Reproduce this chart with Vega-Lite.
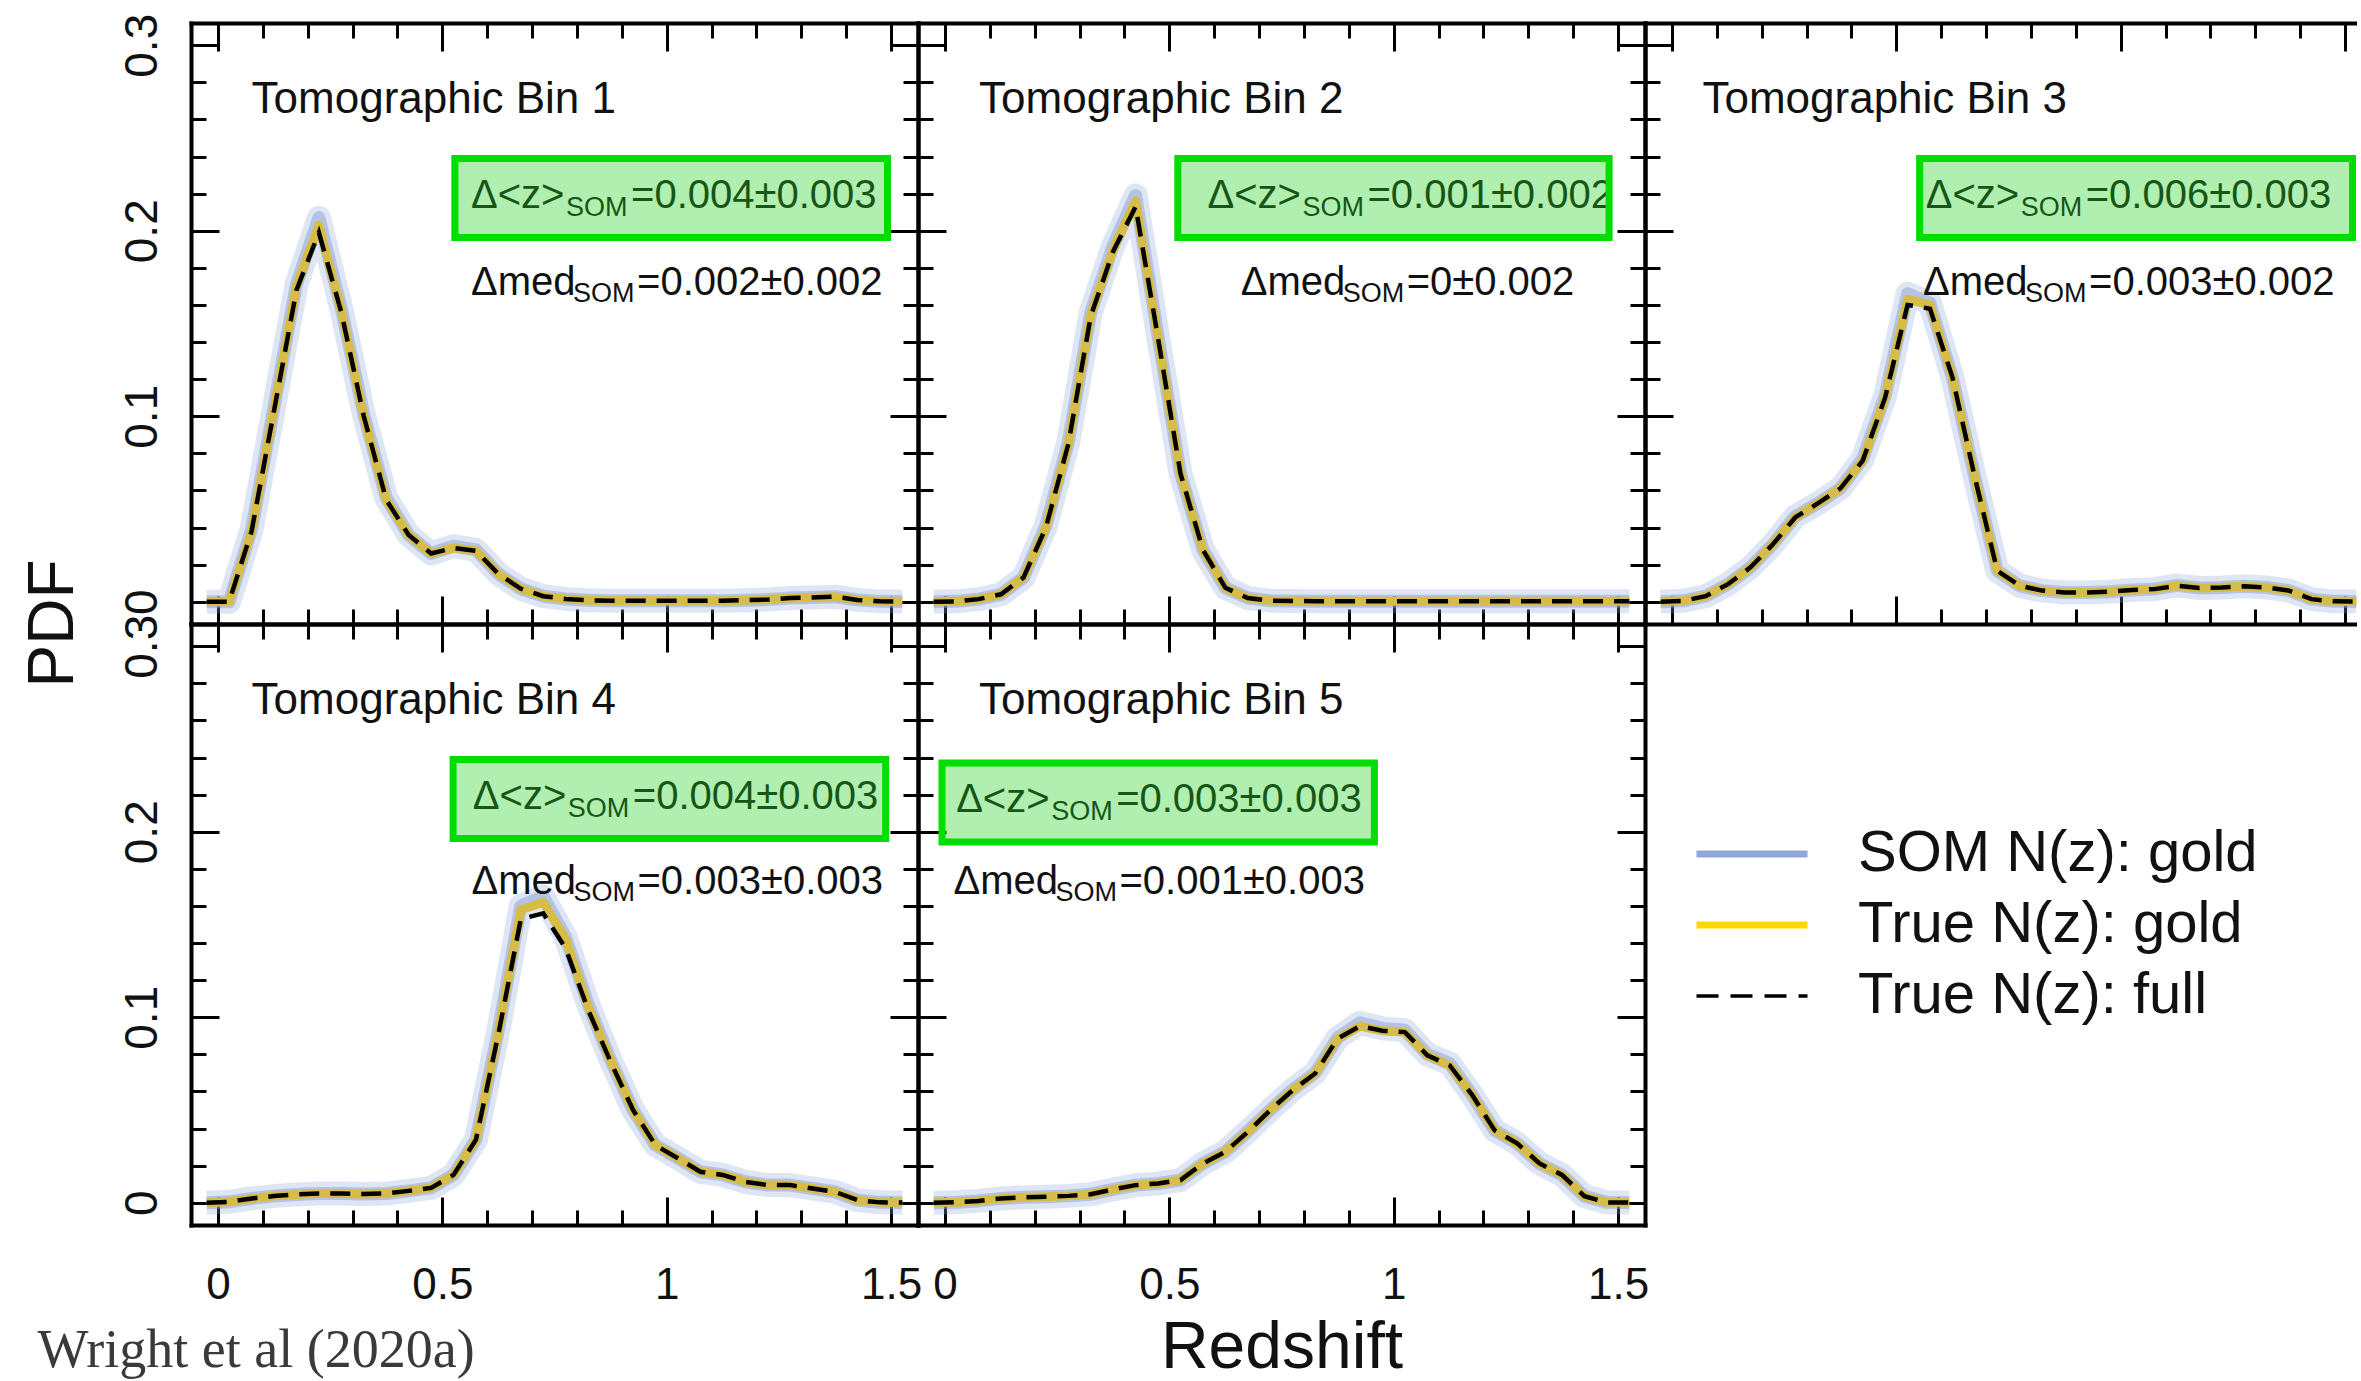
{
"$schema":"https://vega.github.io/schema/vega-lite/v6.json",
"autosize":{"type":"pad"},
"padding":{"left":21,"top":13,"right":0,"bottom":0},
"background":"white",
"config":{
 "view":{"stroke":null},
 "font":"Liberation Sans",
 "axis":{"tickColor":"black","tickWidth":3,"domainColor":"black","domainWidth":4,"domainCap":"square","grid":false,"labelFont":"Liberation Sans","labelFontSize":44,"labelColor":"#111","labelOverlap":false,"labelFlush":false,"labelBound":false,"titleFontWeight":"normal","titleColor":"#111","titleFont":"Liberation Sans"}
},
"datasets":{
"nz":[
{"bin":1,"z":-0.025,"som":0,"gold":0,"full":0},
{"bin":1,"z":0.025,"som":0,"gold":0,"full":0},
{"bin":1,"z":0.075,"som":0.039,"gold":0.038,"full":0.038},
{"bin":1,"z":0.125,"som":0.105,"gold":0.104,"full":0.103},
{"bin":1,"z":0.175,"som":0.171,"gold":0.170,"full":0.168},
{"bin":1,"z":0.225,"som":0.207,"gold":0.203,"full":0.199},
{"bin":1,"z":0.275,"som":0.158,"gold":0.157,"full":0.156},
{"bin":1,"z":0.325,"som":0.101,"gold":0.100,"full":0.100},
{"bin":1,"z":0.375,"som":0.056,"gold":0.055,"full":0.055},
{"bin":1,"z":0.425,"som":0.036,"gold":0.036,"full":0.036},
{"bin":1,"z":0.475,"som":0.026,"gold":0.026,"full":0.026},
{"bin":1,"z":0.525,"som":0.030,"gold":0.029,"full":0.029},
{"bin":1,"z":0.575,"som":0.028,"gold":0.0275,"full":0.0275},
{"bin":1,"z":0.625,"som":0.015,"gold":0.015,"full":0.015},
{"bin":1,"z":0.675,"som":0.007,"gold":0.007,"full":0.007},
{"bin":1,"z":0.725,"som":0.003,"gold":0.003,"full":0.003},
{"bin":1,"z":0.775,"som":0.0015,"gold":0.0015,"full":0.0015},
{"bin":1,"z":0.825,"som":0.0008,"gold":0.0008,"full":0.0008},
{"bin":1,"z":0.875,"som":0.0005,"gold":0.0005,"full":0.0005},
{"bin":1,"z":0.925,"som":0.0005,"gold":0.0005,"full":0.0005},
{"bin":1,"z":0.975,"som":0.0005,"gold":0.0005,"full":0.0005},
{"bin":1,"z":1.025,"som":0.0005,"gold":0.0005,"full":0.0005},
{"bin":1,"z":1.075,"som":0.0005,"gold":0.0005,"full":0.0005},
{"bin":1,"z":1.125,"som":0.0006,"gold":0.0006,"full":0.0006},
{"bin":1,"z":1.175,"som":0.0008,"gold":0.0008,"full":0.0008},
{"bin":1,"z":1.225,"som":0.0012,"gold":0.0012,"full":0.0012},
{"bin":1,"z":1.275,"som":0.002,"gold":0.002,"full":0.002},
{"bin":1,"z":1.325,"som":0.0023,"gold":0.0023,"full":0.0023},
{"bin":1,"z":1.375,"som":0.0027,"gold":0.0027,"full":0.0027},
{"bin":1,"z":1.425,"som":0.001,"gold":0.001,"full":0.001},
{"bin":1,"z":1.475,"som":0.0002,"gold":0.0002,"full":0.0002},
{"bin":1,"z":1.525,"som":0.0001,"gold":0.0001,"full":0.0001},
{"bin":2,"z":-0.025,"som":0,"gold":0,"full":0},
{"bin":2,"z":0.025,"som":0.0002,"gold":0.0002,"full":0.0002},
{"bin":2,"z":0.075,"som":0.0014,"gold":0.0014,"full":0.0014},
{"bin":2,"z":0.125,"som":0.004,"gold":0.004,"full":0.004},
{"bin":2,"z":0.175,"som":0.013,"gold":0.013,"full":0.013},
{"bin":2,"z":0.225,"som":0.041,"gold":0.040,"full":0.040},
{"bin":2,"z":0.275,"som":0.086,"gold":0.085,"full":0.085},
{"bin":2,"z":0.325,"som":0.156,"gold":0.155,"full":0.154},
{"bin":2,"z":0.375,"som":0.192,"gold":0.190,"full":0.189},
{"bin":2,"z":0.425,"som":0.219,"gold":0.216,"full":0.213},
{"bin":2,"z":0.475,"som":0.143,"gold":0.142,"full":0.142},
{"bin":2,"z":0.525,"som":0.069,"gold":0.069,"full":0.069},
{"bin":2,"z":0.575,"som":0.028,"gold":0.028,"full":0.028},
{"bin":2,"z":0.625,"som":0.0075,"gold":0.0075,"full":0.0075},
{"bin":2,"z":0.675,"som":0.002,"gold":0.002,"full":0.002},
{"bin":2,"z":0.725,"som":0.0006,"gold":0.0006,"full":0.0006},
{"bin":2,"z":0.775,"som":0.0004,"gold":0.0004,"full":0.0004},
{"bin":2,"z":0.825,"som":0.0003,"gold":0.0003,"full":0.0003},
{"bin":2,"z":0.875,"som":0.0003,"gold":0.0003,"full":0.0003},
{"bin":2,"z":0.925,"som":0.0003,"gold":0.0003,"full":0.0003},
{"bin":2,"z":0.975,"som":0.0003,"gold":0.0003,"full":0.0003},
{"bin":2,"z":1.025,"som":0.0003,"gold":0.0003,"full":0.0003},
{"bin":2,"z":1.075,"som":0.0003,"gold":0.0003,"full":0.0003},
{"bin":2,"z":1.125,"som":0.0003,"gold":0.0003,"full":0.0003},
{"bin":2,"z":1.175,"som":0.0003,"gold":0.0003,"full":0.0003},
{"bin":2,"z":1.225,"som":0.0003,"gold":0.0003,"full":0.0003},
{"bin":2,"z":1.275,"som":0.0003,"gold":0.0003,"full":0.0003},
{"bin":2,"z":1.325,"som":0.0003,"gold":0.0003,"full":0.0003},
{"bin":2,"z":1.375,"som":0.0003,"gold":0.0003,"full":0.0003},
{"bin":2,"z":1.425,"som":0.0003,"gold":0.0003,"full":0.0003},
{"bin":2,"z":1.475,"som":0.0003,"gold":0.0003,"full":0.0003},
{"bin":2,"z":1.525,"som":0.0002,"gold":0.0002,"full":0.0002},
{"bin":3,"z":-0.025,"som":0,"gold":0,"full":0},
{"bin":3,"z":0.025,"som":0.0005,"gold":0.0005,"full":0.0005},
{"bin":3,"z":0.075,"som":0.003,"gold":0.003,"full":0.003},
{"bin":3,"z":0.125,"som":0.0095,"gold":0.0095,"full":0.0095},
{"bin":3,"z":0.175,"som":0.0185,"gold":0.0185,"full":0.0185},
{"bin":3,"z":0.225,"som":0.031,"gold":0.031,"full":0.031},
{"bin":3,"z":0.275,"som":0.046,"gold":0.0455,"full":0.0455},
{"bin":3,"z":0.325,"som":0.053,"gold":0.053,"full":0.053},
{"bin":3,"z":0.375,"som":0.061,"gold":0.061,"full":0.061},
{"bin":3,"z":0.425,"som":0.077,"gold":0.076,"full":0.076},
{"bin":3,"z":0.475,"som":0.111,"gold":0.110,"full":0.110},
{"bin":3,"z":0.525,"som":0.166,"gold":0.163,"full":0.160},
{"bin":3,"z":0.575,"som":0.161,"gold":0.160,"full":0.158},
{"bin":3,"z":0.625,"som":0.121,"gold":0.121,"full":0.121},
{"bin":3,"z":0.675,"som":0.067,"gold":0.067,"full":0.067},
{"bin":3,"z":0.725,"som":0.0167,"gold":0.0167,"full":0.0167},
{"bin":3,"z":0.775,"som":0.0086,"gold":0.0086,"full":0.0086},
{"bin":3,"z":0.825,"som":0.006,"gold":0.006,"full":0.006},
{"bin":3,"z":0.875,"som":0.005,"gold":0.005,"full":0.005},
{"bin":3,"z":0.925,"som":0.005,"gold":0.005,"full":0.005},
{"bin":3,"z":0.975,"som":0.0054,"gold":0.0054,"full":0.0054},
{"bin":3,"z":1.025,"som":0.0063,"gold":0.0063,"full":0.0063},
{"bin":3,"z":1.075,"som":0.0068,"gold":0.0068,"full":0.0068},
{"bin":3,"z":1.125,"som":0.0088,"gold":0.0086,"full":0.0086},
{"bin":3,"z":1.175,"som":0.0074,"gold":0.0074,"full":0.0074},
{"bin":3,"z":1.225,"som":0.0077,"gold":0.0077,"full":0.0077},
{"bin":3,"z":1.275,"som":0.0083,"gold":0.0083,"full":0.0083},
{"bin":3,"z":1.325,"som":0.0077,"gold":0.0077,"full":0.0077},
{"bin":3,"z":1.375,"som":0.006,"gold":0.006,"full":0.006},
{"bin":3,"z":1.425,"som":0.0014,"gold":0.0014,"full":0.0014},
{"bin":3,"z":1.475,"som":0.0002,"gold":0.0002,"full":0.0002},
{"bin":3,"z":1.525,"som":0.0001,"gold":0.0001,"full":0.0001},
{"bin":4,"z":-0.025,"som":0,"gold":0,"full":0},
{"bin":4,"z":0.025,"som":0.0005,"gold":0.0005,"full":0.0005},
{"bin":4,"z":0.075,"som":0.0023,"gold":0.0023,"full":0.0023},
{"bin":4,"z":0.125,"som":0.0036,"gold":0.0036,"full":0.0036},
{"bin":4,"z":0.175,"som":0.0045,"gold":0.0045,"full":0.0045},
{"bin":4,"z":0.225,"som":0.005,"gold":0.005,"full":0.005},
{"bin":4,"z":0.275,"som":0.005,"gold":0.005,"full":0.005},
{"bin":4,"z":0.325,"som":0.0047,"gold":0.0047,"full":0.0047},
{"bin":4,"z":0.375,"som":0.005,"gold":0.005,"full":0.005},
{"bin":4,"z":0.425,"som":0.0064,"gold":0.0064,"full":0.0064},
{"bin":4,"z":0.475,"som":0.008,"gold":0.008,"full":0.008},
{"bin":4,"z":0.525,"som":0.015,"gold":0.015,"full":0.015},
{"bin":4,"z":0.575,"som":0.034,"gold":0.034,"full":0.034},
{"bin":4,"z":0.625,"som":0.093,"gold":0.092,"full":0.091},
{"bin":4,"z":0.675,"som":0.160,"gold":0.158,"full":0.153},
{"bin":4,"z":0.725,"som":0.165,"gold":0.162,"full":0.156},
{"bin":4,"z":0.775,"som":0.143,"gold":0.142,"full":0.137},
{"bin":4,"z":0.825,"som":0.107,"gold":0.106,"full":0.104},
{"bin":4,"z":0.875,"som":0.077,"gold":0.077,"full":0.076},
{"bin":4,"z":0.925,"som":0.050,"gold":0.050,"full":0.050},
{"bin":4,"z":0.975,"som":0.031,"gold":0.031,"full":0.031},
{"bin":4,"z":1.025,"som":0.024,"gold":0.024,"full":0.024},
{"bin":4,"z":1.075,"som":0.0167,"gold":0.0167,"full":0.0167},
{"bin":4,"z":1.125,"som":0.015,"gold":0.015,"full":0.015},
{"bin":4,"z":1.175,"som":0.0113,"gold":0.0113,"full":0.0113},
{"bin":4,"z":1.225,"som":0.0095,"gold":0.0095,"full":0.0095},
{"bin":4,"z":1.275,"som":0.0095,"gold":0.0095,"full":0.0095},
{"bin":4,"z":1.325,"som":0.0077,"gold":0.0077,"full":0.0077},
{"bin":4,"z":1.375,"som":0.0059,"gold":0.0059,"full":0.0059},
{"bin":4,"z":1.425,"som":0.0014,"gold":0.0014,"full":0.0014},
{"bin":4,"z":1.475,"som":0.0002,"gold":0.0002,"full":0.0002},
{"bin":4,"z":1.525,"som":0.0001,"gold":0.0001,"full":0.0001},
{"bin":5,"z":-0.025,"som":0,"gold":0,"full":0},
{"bin":5,"z":0.025,"som":0.0003,"gold":0.0003,"full":0.0003},
{"bin":5,"z":0.075,"som":0.001,"gold":0.001,"full":0.001},
{"bin":5,"z":0.125,"som":0.0023,"gold":0.0023,"full":0.0023},
{"bin":5,"z":0.175,"som":0.0029,"gold":0.0029,"full":0.0029},
{"bin":5,"z":0.225,"som":0.0032,"gold":0.0032,"full":0.0032},
{"bin":5,"z":0.275,"som":0.0037,"gold":0.0037,"full":0.0037},
{"bin":5,"z":0.325,"som":0.0046,"gold":0.0046,"full":0.0046},
{"bin":5,"z":0.375,"som":0.0072,"gold":0.0072,"full":0.0072},
{"bin":5,"z":0.425,"som":0.0095,"gold":0.0095,"full":0.0095},
{"bin":5,"z":0.475,"som":0.0104,"gold":0.0104,"full":0.0104},
{"bin":5,"z":0.525,"som":0.0122,"gold":0.0122,"full":0.0122},
{"bin":5,"z":0.575,"som":0.0212,"gold":0.0212,"full":0.0212},
{"bin":5,"z":0.625,"som":0.0275,"gold":0.0275,"full":0.0275},
{"bin":5,"z":0.675,"som":0.0385,"gold":0.0382,"full":0.0382},
{"bin":5,"z":0.725,"som":0.050,"gold":0.050,"full":0.050},
{"bin":5,"z":0.775,"som":0.061,"gold":0.0607,"full":0.0607},
{"bin":5,"z":0.825,"som":0.070,"gold":0.0697,"full":0.0697},
{"bin":5,"z":0.875,"som":0.089,"gold":0.0885,"full":0.0885},
{"bin":5,"z":0.925,"som":0.097,"gold":0.0952,"full":0.0952},
{"bin":5,"z":0.975,"som":0.094,"gold":0.0927,"full":0.0927},
{"bin":5,"z":1.025,"som":0.093,"gold":0.092,"full":0.092},
{"bin":5,"z":1.075,"som":0.080,"gold":0.0795,"full":0.0795},
{"bin":5,"z":1.125,"som":0.075,"gold":0.074,"full":0.074},
{"bin":5,"z":1.175,"som":0.058,"gold":0.058,"full":0.058},
{"bin":5,"z":1.225,"som":0.039,"gold":0.039,"full":0.039},
{"bin":5,"z":1.275,"som":0.032,"gold":0.032,"full":0.032},
{"bin":5,"z":1.325,"som":0.0212,"gold":0.0212,"full":0.0212},
{"bin":5,"z":1.375,"som":0.015,"gold":0.015,"full":0.015},
{"bin":5,"z":1.425,"som":0.0035,"gold":0.0035,"full":0.0035},
{"bin":5,"z":1.475,"som":0.0002,"gold":0.0002,"full":0.0002},
{"bin":5,"z":1.525,"som":0.0001,"gold":0.0001,"full":0.0001}
],
"stats":[
{"bin":1,"label":"Tomographic Bin 1","dz":"=0.004±0.003","dmed":"=0.002±0.002"},
{"bin":2,"label":"Tomographic Bin 2","dz":"=0.001±0.002","dmed":"=0±0.002"},
{"bin":3,"label":"Tomographic Bin 3","dz":"=0.006±0.003","dmed":"=0.003±0.002"},
{"bin":4,"label":"Tomographic Bin 4","dz":"=0.004±0.003","dmed":"=0.003±0.003"},
{"bin":5,"label":"Tomographic Bin 5","dz":"=0.003±0.003","dmed":"=0.001±0.003"}
]
},
"columns":3,
"spacing":0,
"bounds":"flush",
"align":"each",
"concat":[
{
 "width":727,"height":601,
 "data":{"name":"nz"},
 "transform":[{"filter":"datum.bin == 1"}],
 "resolve":{"axis":{"x":"independent","y":"independent"}},
 "layer":[
  {"mark":{"type":"line","stroke":"#88a2d8","strokeWidth":24,"strokeOpacity":0.28,"strokeJoin":"round"},
   "encoding":{
    "x":{"field":"z","type":"quantitative","scale":{"domain":[-0.06,1.56],"nice":false,"zero":false},
      "axis":{"orient":"bottom","values":[0,0.1,0.2,0.3,0.4,0.5,0.6,0.7,0.8,0.9,1,1.1,1.2,1.3,1.4,1.5],"tickSize":{"condition":{"test":"indexof([0,0.5,1,1.5], datum.value) >= 0","value":-28},"value":-15},"labels":false,"title":null}},
    "y":{"field":"som","type":"quantitative","scale":{"domain":[-0.012,0.312],"nice":false,"zero":false},
      "axis":{"orient":"left","values":[0,0.02,0.04,0.06,0.08,0.1,0.12,0.14,0.16,0.18,0.2,0.22,0.24,0.26,0.28,0.3],"tickSize":{"condition":{"test":"indexof([0,0.1,0.2,0.3], datum.value) >= 0","value":-28},"value":-15},"labelExpr":"indexof([0,0.1,0.2,0.3], datum.value) >= 0 ? '' + datum.value : ''","labelAngle":-90,"labelAlign":"center","labelBaseline":"alphabetic","labelPadding":63,"labelFontSize":46,"title":"PDF","titleX":-119,"titleY":600,"titleAngle":-90,"titleAlign":"center","titleBaseline":"alphabetic","titleFontSize":64}}}},
  {"mark":{"type":"line","stroke":"#88a2d8","strokeWidth":13,"strokeOpacity":0.5,"strokeJoin":"round"},
   "encoding":{
    "x":{"field":"z","type":"quantitative","scale":{"domain":[-0.06,1.56],"nice":false,"zero":false},
      "axis":{"orient":"top","values":[0,0.1,0.2,0.3,0.4,0.5,0.6,0.7,0.8,0.9,1,1.1,1.2,1.3,1.4,1.5],"tickSize":{"condition":{"test":"indexof([0,0.5,1,1.5], datum.value) >= 0","value":-28},"value":-15},"labels":false,"title":null}},
    "y":{"field":"som","type":"quantitative","scale":{"domain":[-0.012,0.312],"nice":false,"zero":false},
      "axis":{"orient":"right","values":[0,0.02,0.04,0.06,0.08,0.1,0.12,0.14,0.16,0.18,0.2,0.22,0.24,0.26,0.28,0.3],"tickSize":{"condition":{"test":"indexof([0,0.1,0.2,0.3], datum.value) >= 0","value":-28},"value":-15},"labels":false,"title":null}}}},
  {"mark":{"type":"line","stroke":"#d7bc47","strokeWidth":9,"strokeJoin":"round"},
   "encoding":{"x":{"field":"z","type":"quantitative","axis":null},"y":{"field":"gold","type":"quantitative","axis":null}}},
  {"mark":{"type":"line","stroke":"black","strokeWidth":4.5,"strokeDash":[20,11]},
   "encoding":{"x":{"field":"z","type":"quantitative","axis":null},"y":{"field":"full","type":"quantitative","axis":null}}},
  {"data":{"name":"stats"},"transform":[{"filter":"datum.bin == 1"}],
   "mark":{"type":"text","align":"left","baseline":"alphabetic","fontSize":44,"color":"#111"},
   "encoding":{"x":{"datum":0.075,"type":"quantitative","axis":null},"y":{"datum":0.2635,"type":"quantitative","axis":null},"text":{"field":"label"}}},
  {"data":{"name":"stats"},"transform":[{"filter":"datum.bin == 1"}],
   "mark":{"type":"text","align":"left","baseline":"alphabetic","fontSize":40,"color":"#222"},
   "encoding":{"x":{"datum":0.564,"type":"quantitative","axis":null},"y":{"datum":0.212,"type":"quantitative","axis":null},"text":{"value":"Δ<z>"}}},
  {"data":{"name":"stats"},"transform":[{"filter":"datum.bin == 1"}],
   "mark":{"type":"text","align":"left","baseline":"alphabetic","fontSize":27,"dx":95,"dy":8,"color":"#222"},
   "encoding":{"x":{"datum":0.564,"type":"quantitative","axis":null},"y":{"datum":0.212,"type":"quantitative","axis":null},"text":{"value":"SOM"}}},
  {"data":{"name":"stats"},"transform":[{"filter":"datum.bin == 1"}],
   "mark":{"type":"text","align":"left","baseline":"alphabetic","fontSize":40,"dx":160,"color":"#222"},
   "encoding":{"x":{"datum":0.564,"type":"quantitative","axis":null},"y":{"datum":0.212,"type":"quantitative","axis":null},"text":{"field":"dz"}}},
  {"data":{"name":"stats"},"transform":[{"filter":"datum.bin == 1"}],
   "mark":{"type":"rect","fill":"#00cc00","fillOpacity":0.31,"stroke":"#00dd00","strokeWidth":7},
   "encoding":{"x":{"datum":0.528,"type":"quantitative","axis":null},"x2":{"datum":1.492},"y":{"datum":0.239,"type":"quantitative","axis":null},"y2":{"datum":0.1964}}},
  {"data":{"name":"stats"},"transform":[{"filter":"datum.bin == 1"}],
   "mark":{"type":"text","align":"left","baseline":"alphabetic","fontSize":40,"color":"#111"},
   "encoding":{"x":{"datum":0.564,"type":"quantitative","axis":null},"y":{"datum":0.1655,"type":"quantitative","axis":null},"text":{"value":"Δmed"}}},
  {"data":{"name":"stats"},"transform":[{"filter":"datum.bin == 1"}],
   "mark":{"type":"text","align":"left","baseline":"alphabetic","fontSize":27,"dx":102,"dy":7,"color":"#111"},
   "encoding":{"x":{"datum":0.564,"type":"quantitative","axis":null},"y":{"datum":0.1655,"type":"quantitative","axis":null},"text":{"value":"SOM"}}},
  {"data":{"name":"stats"},"transform":[{"filter":"datum.bin == 1"}],
   "mark":{"type":"text","align":"left","baseline":"alphabetic","fontSize":40,"dx":166,"color":"#111"},
   "encoding":{"x":{"datum":0.564,"type":"quantitative","axis":null},"y":{"datum":0.1655,"type":"quantitative","axis":null},"text":{"field":"dmed"}}}
 ]
},
{
 "width":727,"height":601,
 "data":{"name":"nz"},
 "transform":[{"filter":"datum.bin == 2"}],
 "resolve":{"axis":{"x":"independent","y":"independent"}},
 "layer":[
  {"mark":{"type":"line","stroke":"#88a2d8","strokeWidth":24,"strokeOpacity":0.28,"strokeJoin":"round"},
   "encoding":{
    "x":{"field":"z","type":"quantitative","scale":{"domain":[-0.06,1.56],"nice":false,"zero":false},
      "axis":{"orient":"bottom","values":[0,0.1,0.2,0.3,0.4,0.5,0.6,0.7,0.8,0.9,1,1.1,1.2,1.3,1.4,1.5],"tickSize":{"condition":{"test":"indexof([0,0.5,1,1.5], datum.value) >= 0","value":-28},"value":-15},"labels":false,"title":null}},
    "y":{"field":"som","type":"quantitative","scale":{"domain":[-0.012,0.312],"nice":false,"zero":false},
      "axis":{"orient":"left","values":[0,0.02,0.04,0.06,0.08,0.1,0.12,0.14,0.16,0.18,0.2,0.22,0.24,0.26,0.28,0.3],"tickSize":{"condition":{"test":"indexof([0,0.1,0.2,0.3], datum.value) >= 0","value":-28},"value":-15},"labels":false,"title":null}}}},
  {"mark":{"type":"line","stroke":"#88a2d8","strokeWidth":13,"strokeOpacity":0.5,"strokeJoin":"round"},
   "encoding":{
    "x":{"field":"z","type":"quantitative","scale":{"domain":[-0.06,1.56],"nice":false,"zero":false},
      "axis":{"orient":"top","values":[0,0.1,0.2,0.3,0.4,0.5,0.6,0.7,0.8,0.9,1,1.1,1.2,1.3,1.4,1.5],"tickSize":{"condition":{"test":"indexof([0,0.5,1,1.5], datum.value) >= 0","value":-28},"value":-15},"labels":false,"title":null}},
    "y":{"field":"som","type":"quantitative","scale":{"domain":[-0.012,0.312],"nice":false,"zero":false},
      "axis":{"orient":"right","values":[0,0.02,0.04,0.06,0.08,0.1,0.12,0.14,0.16,0.18,0.2,0.22,0.24,0.26,0.28,0.3],"tickSize":{"condition":{"test":"indexof([0,0.1,0.2,0.3], datum.value) >= 0","value":-28},"value":-15},"labels":false,"title":null}}}},
  {"mark":{"type":"line","stroke":"#d7bc47","strokeWidth":9,"strokeJoin":"round"},
   "encoding":{"x":{"field":"z","type":"quantitative","axis":null},"y":{"field":"gold","type":"quantitative","axis":null}}},
  {"mark":{"type":"line","stroke":"black","strokeWidth":4.5,"strokeDash":[20,11]},
   "encoding":{"x":{"field":"z","type":"quantitative","axis":null},"y":{"field":"full","type":"quantitative","axis":null}}},
  {"data":{"name":"stats"},"transform":[{"filter":"datum.bin == 2"}],
   "mark":{"type":"text","align":"left","baseline":"alphabetic","fontSize":44,"color":"#111"},
   "encoding":{"x":{"datum":0.076,"type":"quantitative","axis":null},"y":{"datum":0.2635,"type":"quantitative","axis":null},"text":{"field":"label"}}},
  {"data":{"name":"stats"},"transform":[{"filter":"datum.bin == 2"}],
   "mark":{"type":"text","align":"left","baseline":"alphabetic","fontSize":40,"color":"#222"},
   "encoding":{"x":{"datum":0.585,"type":"quantitative","axis":null},"y":{"datum":0.212,"type":"quantitative","axis":null},"text":{"value":"Δ<z>"}}},
  {"data":{"name":"stats"},"transform":[{"filter":"datum.bin == 2"}],
   "mark":{"type":"text","align":"left","baseline":"alphabetic","fontSize":27,"dx":95,"dy":8,"color":"#222"},
   "encoding":{"x":{"datum":0.585,"type":"quantitative","axis":null},"y":{"datum":0.212,"type":"quantitative","axis":null},"text":{"value":"SOM"}}},
  {"data":{"name":"stats"},"transform":[{"filter":"datum.bin == 2"}],
   "mark":{"type":"text","align":"left","baseline":"alphabetic","fontSize":40,"dx":160,"color":"#222"},
   "encoding":{"x":{"datum":0.585,"type":"quantitative","axis":null},"y":{"datum":0.212,"type":"quantitative","axis":null},"text":{"field":"dz"}}},
  {"data":{"name":"stats"},"transform":[{"filter":"datum.bin == 2"}],
   "mark":{"type":"rect","fill":"#00cc00","fillOpacity":0.31,"stroke":"#00dd00","strokeWidth":7},
   "encoding":{"x":{"datum":0.519,"type":"quantitative","axis":null},"x2":{"datum":1.48},"y":{"datum":0.239,"type":"quantitative","axis":null},"y2":{"datum":0.1964}}},
  {"data":{"name":"stats"},"transform":[{"filter":"datum.bin == 2"}],
   "mark":{"type":"text","align":"left","baseline":"alphabetic","fontSize":40,"color":"#111"},
   "encoding":{"x":{"datum":0.659,"type":"quantitative","axis":null},"y":{"datum":0.1655,"type":"quantitative","axis":null},"text":{"value":"Δmed"}}},
  {"data":{"name":"stats"},"transform":[{"filter":"datum.bin == 2"}],
   "mark":{"type":"text","align":"left","baseline":"alphabetic","fontSize":27,"dx":102,"dy":7,"color":"#111"},
   "encoding":{"x":{"datum":0.659,"type":"quantitative","axis":null},"y":{"datum":0.1655,"type":"quantitative","axis":null},"text":{"value":"SOM"}}},
  {"data":{"name":"stats"},"transform":[{"filter":"datum.bin == 2"}],
   "mark":{"type":"text","align":"left","baseline":"alphabetic","fontSize":40,"dx":166,"color":"#111"},
   "encoding":{"x":{"datum":0.659,"type":"quantitative","axis":null},"y":{"datum":0.1655,"type":"quantitative","axis":null},"text":{"field":"dmed"}}}
 ]
},
{
 "width":712,"height":601,
 "data":{"name":"nz"},
 "transform":[{"filter":"datum.bin == 3"}],
 "resolve":{"axis":{"x":"independent","y":"independent"}},
 "layer":[
  {"mark":{"type":"line","stroke":"#88a2d8","strokeWidth":24,"strokeOpacity":0.28,"strokeJoin":"round","clip":true},
   "encoding":{
    "x":{"field":"z","type":"quantitative","scale":{"domain":[-0.06,1.5265],"nice":false,"zero":false},
      "axis":{"orient":"bottom","values":[0,0.1,0.2,0.3,0.4,0.5,0.6,0.7,0.8,0.9,1,1.1,1.2,1.3,1.4,1.5],"tickSize":{"condition":{"test":"indexof([0,0.5,1,1.5], datum.value) >= 0","value":-28},"value":-15},"labels":false,"title":null}},
    "y":{"field":"som","type":"quantitative","scale":{"domain":[-0.012,0.312],"nice":false,"zero":false},
      "axis":{"orient":"left","values":[0,0.02,0.04,0.06,0.08,0.1,0.12,0.14,0.16,0.18,0.2,0.22,0.24,0.26,0.28,0.3],"tickSize":{"condition":{"test":"indexof([0,0.1,0.2,0.3], datum.value) >= 0","value":-28},"value":-15},"labels":false,"title":null}}}},
  {"mark":{"type":"line","stroke":"#88a2d8","strokeWidth":13,"strokeOpacity":0.5,"strokeJoin":"round","clip":true},
   "encoding":{
    "x":{"field":"z","type":"quantitative","scale":{"domain":[-0.06,1.5265],"nice":false,"zero":false},
      "axis":{"orient":"top","values":[0,0.1,0.2,0.3,0.4,0.5,0.6,0.7,0.8,0.9,1,1.1,1.2,1.3,1.4,1.5],"tickSize":{"condition":{"test":"indexof([0,0.5,1,1.5], datum.value) >= 0","value":-28},"value":-15},"labels":false,"title":null}},
    "y":{"field":"som","type":"quantitative","axis":null}}},
  {"mark":{"type":"line","stroke":"#d7bc47","strokeWidth":9,"strokeJoin":"round","clip":true},
   "encoding":{"x":{"field":"z","type":"quantitative","axis":null},"y":{"field":"gold","type":"quantitative","axis":null}}},
  {"mark":{"type":"line","stroke":"black","strokeWidth":4.5,"strokeDash":[20,11],"clip":true},
   "encoding":{"x":{"field":"z","type":"quantitative","axis":null},"y":{"field":"full","type":"quantitative","axis":null}}},
  {"data":{"name":"stats"},"transform":[{"filter":"datum.bin == 3"}],
   "mark":{"type":"text","align":"left","baseline":"alphabetic","fontSize":44,"color":"#111"},
   "encoding":{"x":{"datum":0.068,"type":"quantitative","axis":null},"y":{"datum":0.2635,"type":"quantitative","axis":null},"text":{"field":"label"}}},
  {"data":{"name":"stats"},"transform":[{"filter":"datum.bin == 3"}],
   "mark":{"type":"text","align":"left","baseline":"alphabetic","fontSize":40,"color":"#222"},
   "encoding":{"x":{"datum":0.5655,"type":"quantitative","axis":null},"y":{"datum":0.212,"type":"quantitative","axis":null},"text":{"value":"Δ<z>"}}},
  {"data":{"name":"stats"},"transform":[{"filter":"datum.bin == 3"}],
   "mark":{"type":"text","align":"left","baseline":"alphabetic","fontSize":27,"dx":95,"dy":8,"color":"#222"},
   "encoding":{"x":{"datum":0.5655,"type":"quantitative","axis":null},"y":{"datum":0.212,"type":"quantitative","axis":null},"text":{"value":"SOM"}}},
  {"data":{"name":"stats"},"transform":[{"filter":"datum.bin == 3"}],
   "mark":{"type":"text","align":"left","baseline":"alphabetic","fontSize":40,"dx":160,"color":"#222"},
   "encoding":{"x":{"datum":0.5655,"type":"quantitative","axis":null},"y":{"datum":0.212,"type":"quantitative","axis":null},"text":{"field":"dz"}}},
  {"data":{"name":"stats"},"transform":[{"filter":"datum.bin == 3"}],
   "mark":{"type":"rect","fill":"#00cc00","fillOpacity":0.31,"stroke":"#00dd00","strokeWidth":7},
   "encoding":{"x":{"datum":0.552,"type":"quantitative","axis":null},"x2":{"datum":1.5165},"y":{"datum":0.239,"type":"quantitative","axis":null},"y2":{"datum":0.1964}}},
  {"data":{"name":"stats"},"transform":[{"filter":"datum.bin == 3"}],
   "mark":{"type":"text","align":"left","baseline":"alphabetic","fontSize":40,"color":"#111"},
   "encoding":{"x":{"datum":0.5595,"type":"quantitative","axis":null},"y":{"datum":0.1655,"type":"quantitative","axis":null},"text":{"value":"Δmed"}}},
  {"data":{"name":"stats"},"transform":[{"filter":"datum.bin == 3"}],
   "mark":{"type":"text","align":"left","baseline":"alphabetic","fontSize":27,"dx":102,"dy":7,"color":"#111"},
   "encoding":{"x":{"datum":0.5595,"type":"quantitative","axis":null},"y":{"datum":0.1655,"type":"quantitative","axis":null},"text":{"value":"SOM"}}},
  {"data":{"name":"stats"},"transform":[{"filter":"datum.bin == 3"}],
   "mark":{"type":"text","align":"left","baseline":"alphabetic","fontSize":40,"dx":166,"color":"#111"},
   "encoding":{"x":{"datum":0.5595,"type":"quantitative","axis":null},"y":{"datum":0.1655,"type":"quantitative","axis":null},"text":{"field":"dmed"}}}
 ]
},
{
 "width":727,"height":601,
 "data":{"name":"nz"},
 "transform":[{"filter":"datum.bin == 4"}],
 "resolve":{"axis":{"x":"independent","y":"independent"}},
 "layer":[
  {"mark":{"type":"line","stroke":"#88a2d8","strokeWidth":24,"strokeOpacity":0.28,"strokeJoin":"round"},
   "encoding":{
    "x":{"field":"z","type":"quantitative","scale":{"domain":[-0.06,1.56],"nice":false,"zero":false},
      "axis":{"orient":"bottom","values":[0,0.1,0.2,0.3,0.4,0.5,0.6,0.7,0.8,0.9,1,1.1,1.2,1.3,1.4,1.5],"tickSize":{"condition":{"test":"indexof([0,0.5,1,1.5], datum.value) >= 0","value":-28},"value":-15},"labelExpr":"indexof([0,0.5,1,1.5], datum.value) >= 0 ? '' + datum.value : ''","labelPadding":66,"title":"Wright et al (2020a)","titleX":-154,"titleY":141,"titleAlign":"left","titleBaseline":"alphabetic","titleFont":"Liberation Serif","titleFontSize":54,"titleColor":"#3a3a3a"}},
    "y":{"field":"som","type":"quantitative","scale":{"domain":[-0.012,0.312],"nice":false,"zero":false},
      "axis":{"orient":"left","values":[0,0.02,0.04,0.06,0.08,0.1,0.12,0.14,0.16,0.18,0.2,0.22,0.24,0.26,0.28,0.3],"tickSize":{"condition":{"test":"indexof([0,0.1,0.2,0.3], datum.value) >= 0","value":-28},"value":-15},"labelExpr":"indexof([0,0.1,0.2,0.3], datum.value) >= 0 ? '' + datum.value : ''","labelAngle":-90,"labelAlign":"center","labelBaseline":"alphabetic","labelPadding":63,"labelFontSize":46,"title":null}}}},
  {"mark":{"type":"line","stroke":"#88a2d8","strokeWidth":13,"strokeOpacity":0.5,"strokeJoin":"round"},
   "encoding":{
    "x":{"field":"z","type":"quantitative","scale":{"domain":[-0.06,1.56],"nice":false,"zero":false},
      "axis":{"orient":"top","values":[0,0.1,0.2,0.3,0.4,0.5,0.6,0.7,0.8,0.9,1,1.1,1.2,1.3,1.4,1.5],"tickSize":{"condition":{"test":"indexof([0,0.5,1,1.5], datum.value) >= 0","value":-28},"value":-15},"labels":false,"title":null}},
    "y":{"field":"som","type":"quantitative","scale":{"domain":[-0.012,0.312],"nice":false,"zero":false},
      "axis":{"orient":"right","values":[0,0.02,0.04,0.06,0.08,0.1,0.12,0.14,0.16,0.18,0.2,0.22,0.24,0.26,0.28,0.3],"tickSize":{"condition":{"test":"indexof([0,0.1,0.2,0.3], datum.value) >= 0","value":-28},"value":-15},"labels":false,"title":null}}}},
  {"mark":{"type":"line","stroke":"#d7bc47","strokeWidth":9,"strokeJoin":"round"},
   "encoding":{"x":{"field":"z","type":"quantitative","axis":null},"y":{"field":"gold","type":"quantitative","axis":null}}},
  {"mark":{"type":"line","stroke":"black","strokeWidth":4.5,"strokeDash":[20,11]},
   "encoding":{"x":{"field":"z","type":"quantitative","axis":null},"y":{"field":"full","type":"quantitative","axis":null}}},
  {"data":{"name":"stats"},"transform":[{"filter":"datum.bin == 4"}],
   "mark":{"type":"text","align":"left","baseline":"alphabetic","fontSize":44,"color":"#111"},
   "encoding":{"x":{"datum":0.075,"type":"quantitative","axis":null},"y":{"datum":0.2635,"type":"quantitative","axis":null},"text":{"field":"label"}}},
  {"data":{"name":"stats"},"transform":[{"filter":"datum.bin == 4"}],
   "mark":{"type":"text","align":"left","baseline":"alphabetic","fontSize":40,"color":"#222"},
   "encoding":{"x":{"datum":0.568,"type":"quantitative","axis":null},"y":{"datum":0.212,"type":"quantitative","axis":null},"text":{"value":"Δ<z>"}}},
  {"data":{"name":"stats"},"transform":[{"filter":"datum.bin == 4"}],
   "mark":{"type":"text","align":"left","baseline":"alphabetic","fontSize":27,"dx":95,"dy":8,"color":"#222"},
   "encoding":{"x":{"datum":0.568,"type":"quantitative","axis":null},"y":{"datum":0.212,"type":"quantitative","axis":null},"text":{"value":"SOM"}}},
  {"data":{"name":"stats"},"transform":[{"filter":"datum.bin == 4"}],
   "mark":{"type":"text","align":"left","baseline":"alphabetic","fontSize":40,"dx":160,"color":"#222"},
   "encoding":{"x":{"datum":0.568,"type":"quantitative","axis":null},"y":{"datum":0.212,"type":"quantitative","axis":null},"text":{"field":"dz"}}},
  {"data":{"name":"stats"},"transform":[{"filter":"datum.bin == 4"}],
   "mark":{"type":"rect","fill":"#00cc00","fillOpacity":0.31,"stroke":"#00dd00","strokeWidth":7},
   "encoding":{"x":{"datum":0.524,"type":"quantitative","axis":null},"x2":{"datum":1.488},"y":{"datum":0.239,"type":"quantitative","axis":null},"y2":{"datum":0.1964}}},
  {"data":{"name":"stats"},"transform":[{"filter":"datum.bin == 4"}],
   "mark":{"type":"text","align":"left","baseline":"alphabetic","fontSize":40,"color":"#111"},
   "encoding":{"x":{"datum":0.565,"type":"quantitative","axis":null},"y":{"datum":0.1665,"type":"quantitative","axis":null},"text":{"value":"Δmed"}}},
  {"data":{"name":"stats"},"transform":[{"filter":"datum.bin == 4"}],
   "mark":{"type":"text","align":"left","baseline":"alphabetic","fontSize":27,"dx":102,"dy":7,"color":"#111"},
   "encoding":{"x":{"datum":0.565,"type":"quantitative","axis":null},"y":{"datum":0.1665,"type":"quantitative","axis":null},"text":{"value":"SOM"}}},
  {"data":{"name":"stats"},"transform":[{"filter":"datum.bin == 4"}],
   "mark":{"type":"text","align":"left","baseline":"alphabetic","fontSize":40,"dx":166,"color":"#111"},
   "encoding":{"x":{"datum":0.565,"type":"quantitative","axis":null},"y":{"datum":0.1665,"type":"quantitative","axis":null},"text":{"field":"dmed"}}}
 ]
},
{
 "width":727,"height":601,
 "data":{"name":"nz"},
 "transform":[{"filter":"datum.bin == 5"}],
 "resolve":{"axis":{"x":"independent","y":"independent"}},
 "layer":[
  {"mark":{"type":"line","stroke":"#88a2d8","strokeWidth":24,"strokeOpacity":0.28,"strokeJoin":"round"},
   "encoding":{
    "x":{"field":"z","type":"quantitative","scale":{"domain":[-0.06,1.56],"nice":false,"zero":false},
      "axis":{"orient":"bottom","values":[0,0.1,0.2,0.3,0.4,0.5,0.6,0.7,0.8,0.9,1,1.1,1.2,1.3,1.4,1.5],"tickSize":{"condition":{"test":"indexof([0,0.5,1,1.5], datum.value) >= 0","value":-28},"value":-15},"labelExpr":"indexof([0,0.5,1,1.5], datum.value) >= 0 ? '' + datum.value : ''","labelPadding":66,"title":"Redshift","titleX":363.5,"titleY":142,"titleAlign":"center","titleBaseline":"alphabetic","titleFontSize":66}},
    "y":{"field":"som","type":"quantitative","scale":{"domain":[-0.012,0.312],"nice":false,"zero":false},
      "axis":{"orient":"left","values":[0,0.02,0.04,0.06,0.08,0.1,0.12,0.14,0.16,0.18,0.2,0.22,0.24,0.26,0.28,0.3],"tickSize":{"condition":{"test":"indexof([0,0.1,0.2,0.3], datum.value) >= 0","value":-28},"value":-15},"labels":false,"title":null}}}},
  {"mark":{"type":"line","stroke":"#88a2d8","strokeWidth":13,"strokeOpacity":0.5,"strokeJoin":"round"},
   "encoding":{
    "x":{"field":"z","type":"quantitative","scale":{"domain":[-0.06,1.56],"nice":false,"zero":false},
      "axis":{"orient":"top","values":[0,0.1,0.2,0.3,0.4,0.5,0.6,0.7,0.8,0.9,1,1.1,1.2,1.3,1.4,1.5],"tickSize":{"condition":{"test":"indexof([0,0.5,1,1.5], datum.value) >= 0","value":-28},"value":-15},"labels":false,"title":null}},
    "y":{"field":"som","type":"quantitative","scale":{"domain":[-0.012,0.312],"nice":false,"zero":false},
      "axis":{"orient":"right","values":[0,0.02,0.04,0.06,0.08,0.1,0.12,0.14,0.16,0.18,0.2,0.22,0.24,0.26,0.28,0.3],"tickSize":{"condition":{"test":"indexof([0,0.1,0.2,0.3], datum.value) >= 0","value":-28},"value":-15},"labels":false,"title":null}}}},
  {"mark":{"type":"line","stroke":"#d7bc47","strokeWidth":9,"strokeJoin":"round"},
   "encoding":{"x":{"field":"z","type":"quantitative","axis":null},"y":{"field":"gold","type":"quantitative","axis":null}}},
  {"mark":{"type":"line","stroke":"black","strokeWidth":4.5,"strokeDash":[20,11]},
   "encoding":{"x":{"field":"z","type":"quantitative","axis":null},"y":{"field":"full","type":"quantitative","axis":null}}},
  {"data":{"name":"stats"},"transform":[{"filter":"datum.bin == 5"}],
   "mark":{"type":"text","align":"left","baseline":"alphabetic","fontSize":44,"color":"#111"},
   "encoding":{"x":{"datum":0.076,"type":"quantitative","axis":null},"y":{"datum":0.2635,"type":"quantitative","axis":null},"text":{"field":"label"}}},
  {"data":{"name":"stats"},"transform":[{"filter":"datum.bin == 5"}],
   "mark":{"type":"text","align":"left","baseline":"alphabetic","fontSize":40,"color":"#222"},
   "encoding":{"x":{"datum":0.025,"type":"quantitative","axis":null},"y":{"datum":0.2108,"type":"quantitative","axis":null},"text":{"value":"Δ<z>"}}},
  {"data":{"name":"stats"},"transform":[{"filter":"datum.bin == 5"}],
   "mark":{"type":"text","align":"left","baseline":"alphabetic","fontSize":27,"dx":95,"dy":8,"color":"#222"},
   "encoding":{"x":{"datum":0.025,"type":"quantitative","axis":null},"y":{"datum":0.2108,"type":"quantitative","axis":null},"text":{"value":"SOM"}}},
  {"data":{"name":"stats"},"transform":[{"filter":"datum.bin == 5"}],
   "mark":{"type":"text","align":"left","baseline":"alphabetic","fontSize":40,"dx":160,"color":"#222"},
   "encoding":{"x":{"datum":0.025,"type":"quantitative","axis":null},"y":{"datum":0.2108,"type":"quantitative","axis":null},"text":{"field":"dz"}}},
  {"data":{"name":"stats"},"transform":[{"filter":"datum.bin == 5"}],
   "mark":{"type":"rect","fill":"#00cc00","fillOpacity":0.31,"stroke":"#00dd00","strokeWidth":7},
   "encoding":{"x":{"datum":-0.0065,"type":"quantitative","axis":null},"x2":{"datum":0.957},"y":{"datum":0.2371,"type":"quantitative","axis":null},"y2":{"datum":0.1945}}},
  {"data":{"name":"stats"},"transform":[{"filter":"datum.bin == 5"}],
   "mark":{"type":"text","align":"left","baseline":"alphabetic","fontSize":40,"color":"#111"},
   "encoding":{"x":{"datum":0.019,"type":"quantitative","axis":null},"y":{"datum":0.1665,"type":"quantitative","axis":null},"text":{"value":"Δmed"}}},
  {"data":{"name":"stats"},"transform":[{"filter":"datum.bin == 5"}],
   "mark":{"type":"text","align":"left","baseline":"alphabetic","fontSize":27,"dx":102,"dy":7,"color":"#111"},
   "encoding":{"x":{"datum":0.019,"type":"quantitative","axis":null},"y":{"datum":0.1665,"type":"quantitative","axis":null},"text":{"value":"SOM"}}},
  {"data":{"name":"stats"},"transform":[{"filter":"datum.bin == 5"}],
   "mark":{"type":"text","align":"left","baseline":"alphabetic","fontSize":40,"dx":166,"color":"#111"},
   "encoding":{"x":{"datum":0.019,"type":"quantitative","axis":null},"y":{"datum":0.1665,"type":"quantitative","axis":null},"text":{"field":"dmed"}}},
  {"data":{"values":[]},
   "mark":{"type":"line"},
   "encoding":{"color":{"field":"series","type":"nominal",
     "scale":{"domain":["SOM N(z): gold","True N(z): gold","True N(z): full"],"range":["#8fa7d9","#ffd700","#000000"]},
     "legend":{"orient":"none","legendX":1532,"legendY":802,"title":null,"symbolType":"stroke","symbolSize":12321,"rowPadding":13,"padding":0,"labelFont":"Liberation Sans","labelFontSize":58,"labelColor":"#111","labelLimit":800,"labelOffset":77,"symbolOpacity":1,
       "symbolStrokeWidth":{"expr":"datum.value == 'True N(z): full' ? 3.5 : 7"},
       "symbolDash":{"expr":"datum.value == 'True N(z): full' ? [22,12] : [1,0]"}}}}}
 ]
}
]
}
